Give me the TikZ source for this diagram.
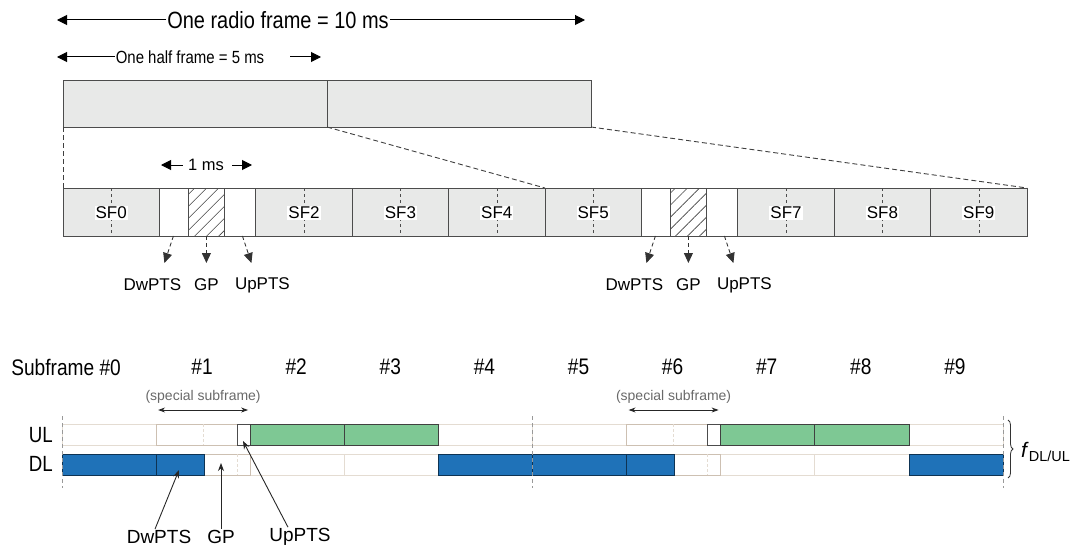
\documentclass[tikz,border=0pt]{standalone}
\usepackage{fontspec}
\setmainfont{Liberation Sans}
\newfontfamily\narrowfont{Liberation Sans}[FakeStretch=0.85]
\usetikzlibrary{arrows.meta, patterns.meta, decorations.pathreplacing}
\definecolor{framegray}{RGB}{232,233,232}
\definecolor{ulgreen}{RGB}{126,200,148}
\definecolor{dlblue}{RGB}{31,114,184}
\definecolor{cellline}{RGB}{228,220,210}
\definecolor{specline}{RGB}{205,192,178}
\definecolor{labelgray}{RGB}{105,105,105}
\tikzset{
  txt/.style={font=\fontsize{#1}{#1}\selectfont, inner sep=1pt},
  ntxt/.style={font=\narrowfont\fontsize{#1}{#1}\selectfont, inner sep=1pt},
  bigarrow/.style={line width=1pt, -{Triangle[length=10pt,width=10pt]}},
  sfcell/.style={draw=black!70, fill=framegray, line width=0.9pt},
  ptscell/.style={draw=black!70, fill=white, line width=0.9pt},
  gpcell/.style={draw=black!70, line width=0.9pt, pattern color=black!75,
    pattern={Lines[angle=45,distance=8.5pt,line width=0.6pt]}},
  slotmark/.style={dash pattern=on 3pt off 3pt, line width=0.6pt, black!70},
  sflabel/.style={txt=17, fill=white},
  zoomline/.style={dash pattern=on 5pt off 3pt, line width=0.9pt, black!75},
  ptsarrow/.style={dash pattern=on 4pt off 3pt, line width=0.9pt, black!80,
    -{Triangle[length=10pt,width=9pt]}},
  cellwhite/.style={draw=cellline, fill=white, line width=0.8pt},
  cellgreen/.style={draw=black!75, fill=ulgreen, line width=0.8pt},
  cellblue/.style={draw=black!55!dlblue, fill=dlblue, line width=0.8pt},
  specbox/.style={draw=specline, line width=0.9pt},
  specdash/.style={draw=cellline, dash pattern=on 3pt off 2pt, line width=0.8pt},
  halfmark/.style={draw=gray!80, dash pattern=on 4pt off 3pt, line width=0.8pt},
  specarrow/.style={line width=0.9pt, black!85,
    {Stealth[length=7pt,width=5pt]}-{Stealth[length=7pt,width=5pt]}},
  callout/.style={line width=0.9pt, black!85, -{Stealth[length=8pt,width=6pt]}}
}

\begin{document}
\begin{tikzpicture}[x=1pt,y=-1pt]
\useasboundingbox (0,0) rectangle (1075,551);

% radio frame and half frame
\node[ntxt=23.5] (radio) at (278,20) {One radio frame = 10 ms};
\coordinate (radioL) at (57,20);
\coordinate (radioR) at (585,20);
\draw[bigarrow] (radio.west) -- (radioL);
\draw[bigarrow] (radio.east) -- (radioR);

\node[ntxt=17.6] (half) at (190,57) {One half frame = 5 ms};
\coordinate (halfL) at (57,57);
\coordinate (halfA) at (290,57);
\coordinate (halfB) at (321,57);
\draw[bigarrow] (half.west) -- (halfL);
\draw[bigarrow] (halfA) -- (halfB);

\draw[sfcell] (63,80) rectangle (591,127);
\draw[line width=0.9pt, black!70] (327,80) -- (327,127);

% zoom lines
\draw[zoomline] (63,127) -- (63,188);
\draw[zoomline] (327,127) -- (545,188);
\draw[zoomline] (591,127) -- (1027,188);

% 1 ms
\node[txt=16.5] (onems) at (206,165) {1 ms};
\coordinate (msL) at (161,165);
\coordinate (msR) at (252,165);
\draw[bigarrow] (onems.west) ++(-4,0) -- (msL);
\draw[bigarrow] (onems.east) ++(7,0) -- (msR);

% subframes
\foreach \i in {0,2,3,4,5,7,8,9} {
  \pgfmathsetmacro{\xa}{63+96.4*\i}
  \draw[sfcell] (\xa,188) rectangle ++(96.4,48);
  \draw[slotmark] (\xa+48.2,188) -- ++(0,48);
  \node[sflabel] (sf\i) at (\xa+48.2,213) {SF\i};
}

% special subframes
\foreach \i in {1,6} {
  \pgfmathsetmacro{\xa}{63+96.4*\i}
  \draw[ptscell] (\xa,188) rectangle (\xa+29,236);
  \draw[gpcell] (\xa+29,188) rectangle (\xa+65,236);
  \draw[ptscell] (\xa+65,188) rectangle (\xa+96.4,236);
  \coordinate (dwa\i) at (\xa+14,236);
  \coordinate (dwb\i) at (\xa+5,263);
  \coordinate (gpa\i) at (\xa+47,236);
  \coordinate (gpb\i) at (\xa+47,263);
  \coordinate (upa\i) at (\xa+83,236);
  \coordinate (upb\i) at (\xa+92,263);
  \draw[ptsarrow] (dwa\i) -- (dwb\i);
  \draw[ptsarrow] (gpa\i) -- (gpb\i);
  \draw[ptsarrow] (upa\i) -- (upb\i);
  \node[txt=17] (dw\i) at (\xa-7,285) {DwPTS};
  \node[txt=17] (gp\i) at (\xa+47,285) {GP};
  \node[txt=17] (up\i) at (\xa+103,285) {UpPTS};
}

% UL / DL
\node[ntxt=22.5, anchor=east] (no0) at (122,367) {Subframe \#0};
\foreach \i in {1,...,9}
  \node[ntxt=22.5] (no\i) at (62+94.1*\i+46,367) {\#\i};
\node[ntxt=22, anchor=east] (ul) at (54,435) {UL};
\node[ntxt=22, anchor=east] (dl) at (54,464) {DL};

\foreach \i in {0,...,9} {
  \draw[cellwhite] (62+94.1*\i,424) rectangle ++(94.1,21);
  \draw[cellwhite] (62+94.1*\i,454) rectangle ++(94.1,21);
}
\foreach \i in {1,6} {
  \pgfmathsetmacro{\xa}{62+94.1*\i}
  \draw[specbox] (\xa,424) rectangle ++(94.1,21);
  \draw[specbox] (\xa,454) rectangle ++(94.1,21);
  \draw[specdash] (\xa+47,424) -- ++(0,21);
  \draw[specdash] (\xa+81,454) -- ++(0,21);
  \draw[ptscell] (\xa+81,424) rectangle (\xa+94.1,445);
  \draw[cellblue] (\xa,454) rectangle (\xa+48,475);
  \node[txt=14, text=labelgray] (spec\i) at (\xa+47,397) {(special subframe)};
  \coordinate (sl\i) at (\xa+2,410);
  \coordinate (sr\i) at (\xa+92,410);
  \draw[specarrow] (sl\i) -- (sr\i);
}
\foreach \i in {2,3,7,8}
  \draw[cellgreen] (62+94.1*\i,424) rectangle ++(94.1,21);
\foreach \i in {0,4,5,9}
  \draw[cellblue] (62+94.1*\i,454) rectangle ++(94.1,21);

% half frame marks
\foreach \x in {62,532.5,1003}
  \draw[halfmark] (\x,416) -- (\x,488);

% brace
\draw[line width=0.8pt, black!80, decorate, decoration={brace,amplitude=5pt}]
  (1008,420) -- (1008,478);
\node[txt=21, anchor=west] (fdu) at (1020,452)
  {\textit{f}\raisebox{-0.35ex}{\fontsize{14.5}{14.5}\selectfont DL/UL}};

% callouts
\node[txt=19] (dwl) at (159,537) {DwPTS};
\node[txt=19] (gpl) at (221,537) {GP};
\node[txt=19] (upl) at (300,537) {UpPTS};
\coordinate (dwtip) at (179,470);
\coordinate (gptip) at (221,463);
\coordinate (uptip) at (243,441);
\draw[callout] (dwl.north) ++(-4,0) -- (dwtip);
\draw[callout] (gpl.north) -- (gptip);
\draw[callout] (upl.north) ++(-12,0) -- (uptip);
\end{tikzpicture}
\end{document}
